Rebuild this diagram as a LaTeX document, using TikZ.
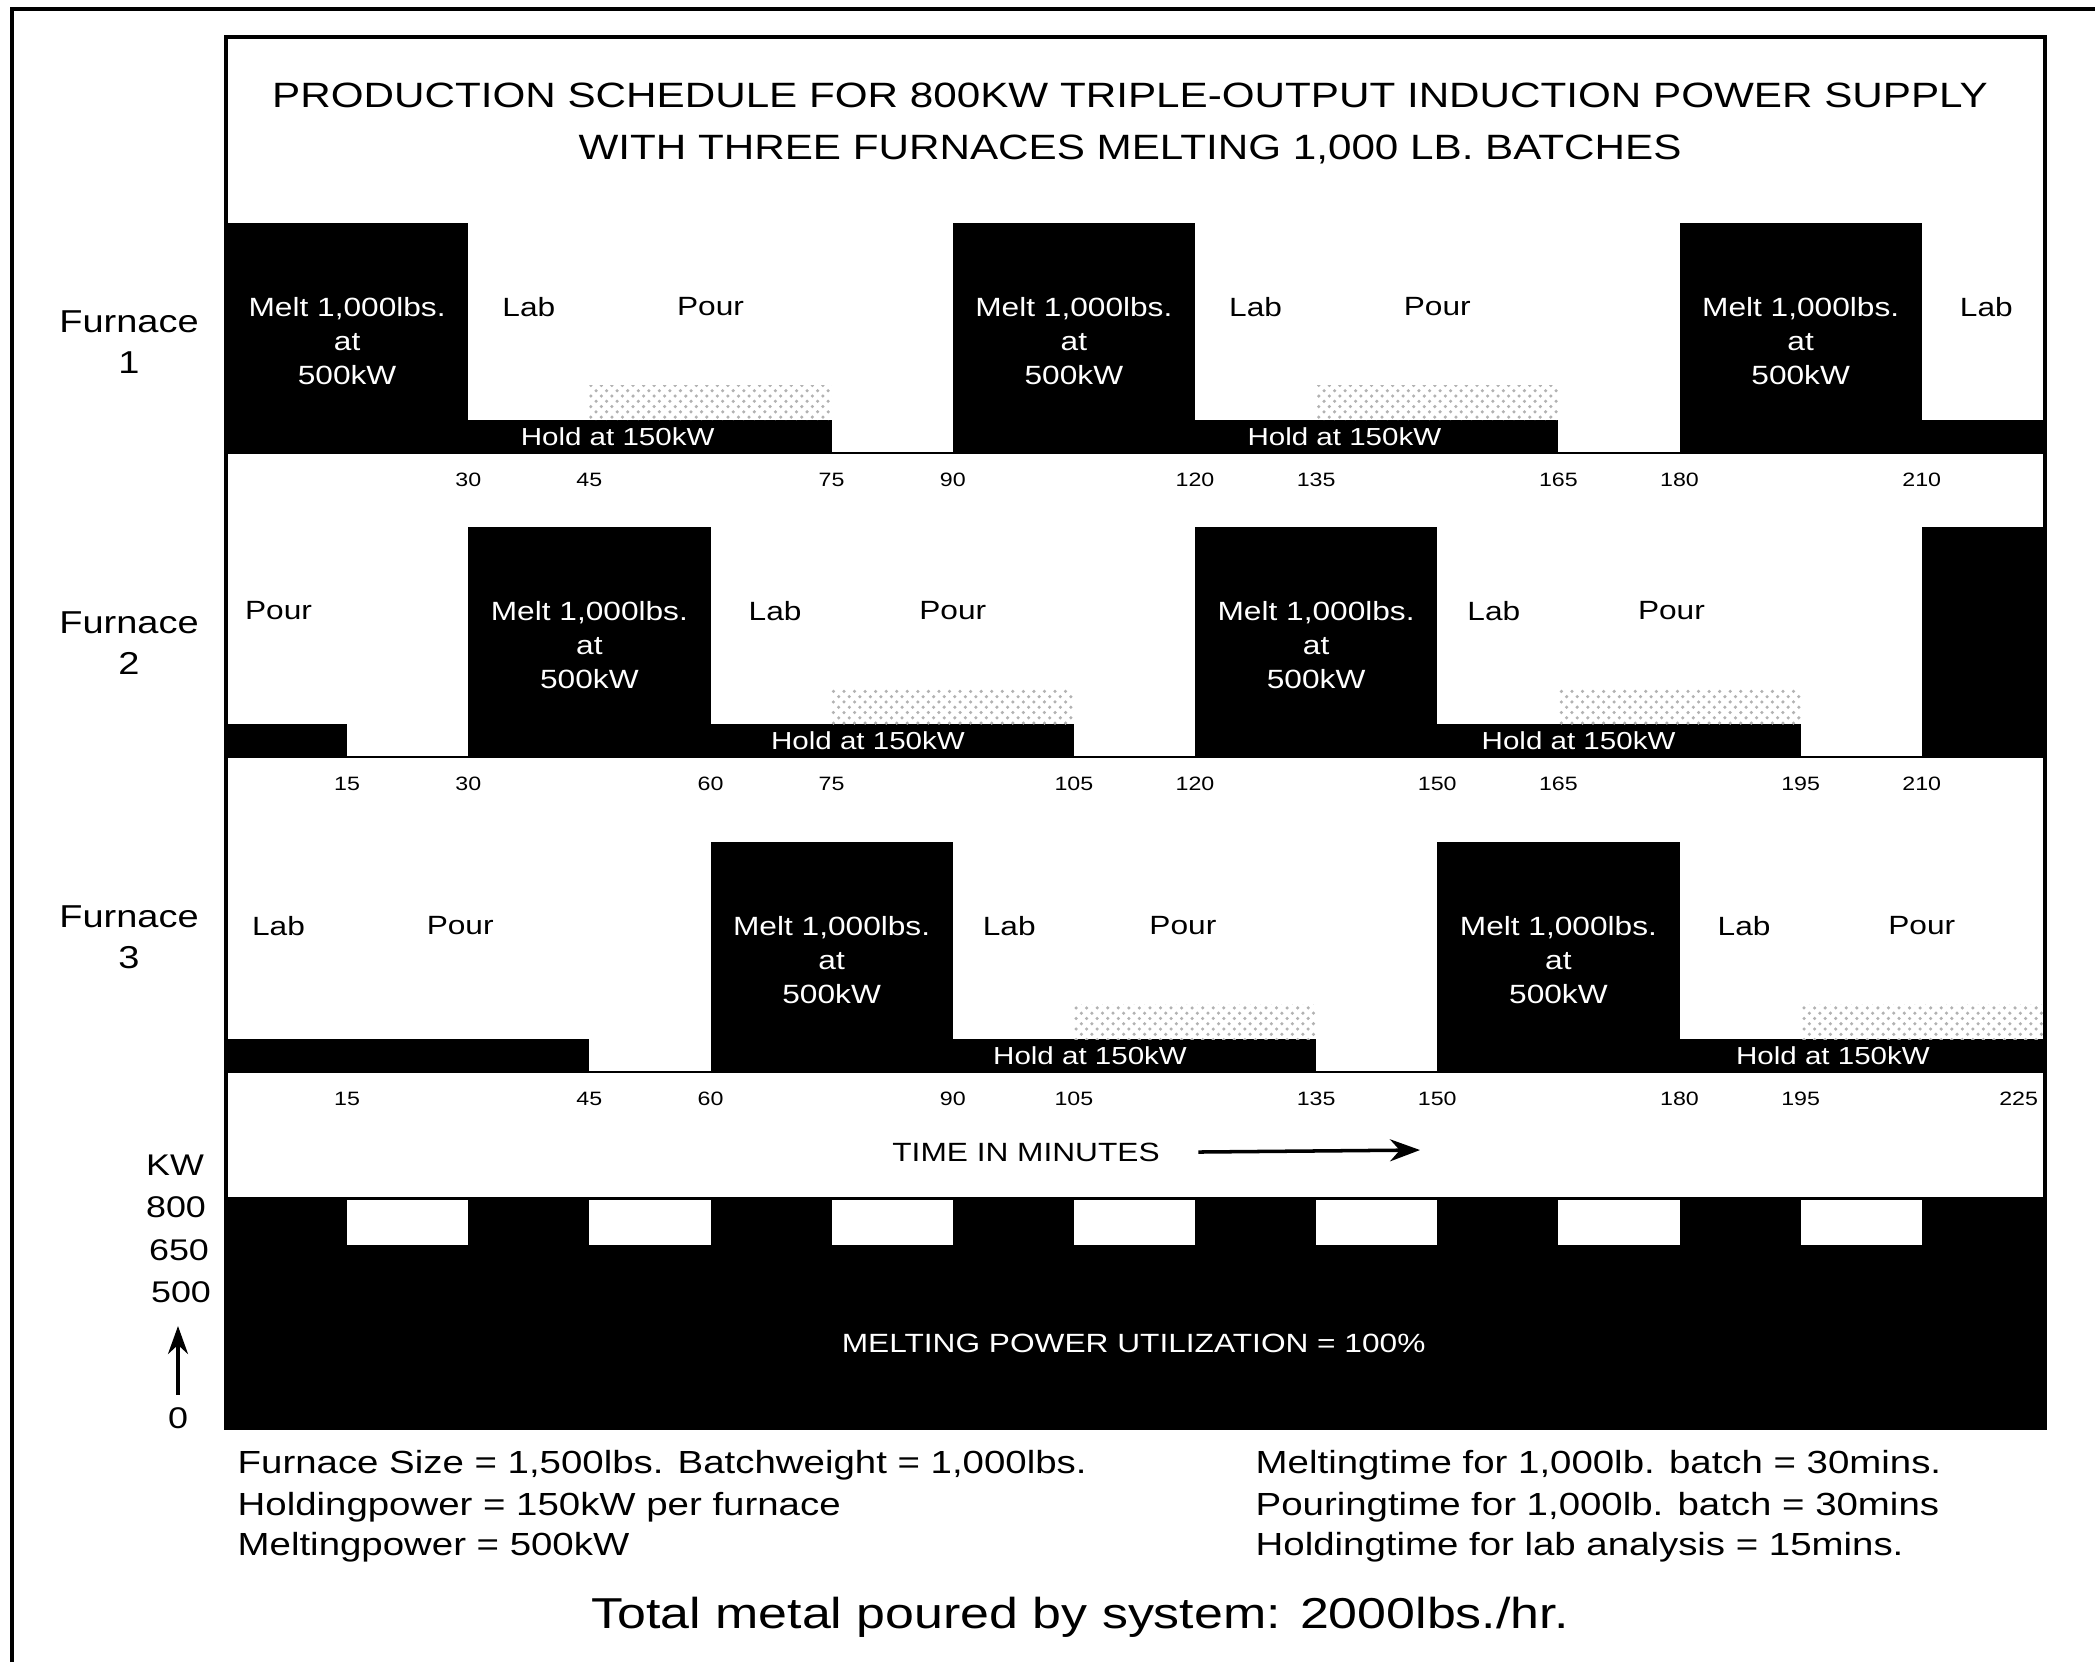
\documentclass[tikz,border=0pt]{standalone}
\usepackage{fontspec}
\setmainfont{Liberation Sans}[FakeStretch=1.2]
\usetikzlibrary{arrows.meta, positioning, patterns}

\begin{document}
\begin{tikzpicture}[
  x=0.01cm, y=-0.01cm,
  every node/.style={inner sep=0pt},
  row/.style={x=0.0807cm},
  block/.style={fill=black},
  meltlabel/.style={text=white, align=center, font=\fontsize{7.5}{9.7}\selectfont},
  phase/.style={font=\fontsize{7.5}{9}\selectfont},
  holdlabel/.style={text=white, font=\fontsize{7}{8}\selectfont},
  minute/.style={font=\fontsize{5.5}{6}\selectfont},
  furnace/.style={align=center, font=\fontsize{9}{11.7}\selectfont},
  kwlabel/.style={font=\fontsize{8.5}{9}\selectfont},
  note/.style={anchor=west, font=\fontsize{9.1}{10}\selectfont},
  stipple/.style={pattern=crosshatch dots, pattern color=black!30}
]
  \useasboundingbox (0,0) rectangle (2095,1662);

  % frames
  \draw[line width=1.1pt] (12,1662) -- (12,9) -- (2095,9);
  \draw[line width=0.9pt] (226,37) rectangle (2045,1428);

  \node[align=center, font=\fontsize{10}{14.8}\selectfont] (title) at (1130,123)
    {PRODUCTION SCHEDULE FOR 800KW TRIPLE-OUTPUT INDUCTION POWER SUPPLY\\
     WITH THREE FURNACES MELTING 1,000 LB. BATCHES};

  \foreach \n/\y in {1/342,2/643,3/937}
    \node[furnace] (furnace\n) at (129,\y) {Furnace\\\n};

  % furnace 1
  \begin{scope}[shift={(226,453)}, row]
    \draw[line width=0.8pt] (0,0) -- (225,0);
    \foreach \s [count=\i] in {0,90,180} {
      \fill[block] (\s,0) rectangle ++(30,-230);
      \node[meltlabel] (fa melt\i) at (\s+15,-112) {Melt 1,000lbs.\\at\\500kW};
    }
    \foreach \s/\e in {30/75,120/165,210/225}
      \fill[block] (\s,0) rectangle (\e,-33);
    \foreach \s in {45,135}
      \fill[stipple] (\s,-33) rectangle ++(30,-35);
    \foreach \t [count=\i] in {37.5,127.5,218}
      \node[phase] (fa lab\i) at (\t,-146) {Lab};
    \foreach \t [count=\i] in {60,150}
      \node[phase] (fa pour\i) at (\t,-146) {Pour};
    \foreach \t [count=\i] in {48.5,138.5}
      \node[holdlabel] (fa hold\i) at (\t,-16) {Hold at 150kW};
    \foreach \t in {30,45,75,90,120,135,165,180,210}
      \node[minute] (fa t\t) at (\t,27) {\t};
  \end{scope}

  % furnace 2
  \begin{scope}[shift={(226,757)}, row]
    \draw[line width=0.8pt] (0,0) -- (225,0);
    \foreach \s [count=\i] in {30,120} {
      \fill[block] (\s,0) rectangle ++(30,-230);
      \node[meltlabel] (fb melt\i) at (\s+15,-112) {Melt 1,000lbs.\\at\\500kW};
    }
    \fill[block] (210,0) rectangle (225,-230);
    \foreach \s/\e in {0/15,60/105,150/195}
      \fill[block] (\s,0) rectangle (\e,-33);
    \foreach \s in {75,165}
      \fill[stipple] (\s,-33) rectangle ++(30,-35);
    \foreach \t [count=\i] in {68,157}
      \node[phase] (fb lab\i) at (\t,-146) {Lab};
    \foreach \t [count=\i] in {6.5,90,179}
      \node[phase] (fb pour\i) at (\t,-146) {Pour};
    \foreach \t [count=\i] in {79.5,167.5}
      \node[holdlabel] (fb hold\i) at (\t,-16) {Hold at 150kW};
    \foreach \t in {15,30,60,75,105,120,150,165,195,210}
      \node[minute] (fb t\t) at (\t,27) {\t};
  \end{scope}

  % furnace 3
  \begin{scope}[shift={(226,1072)}, row]
    \draw[line width=0.8pt] (0,0) -- (225,0);
    \foreach \s [count=\i] in {60,150} {
      \fill[block] (\s,0) rectangle ++(30,-230);
      \node[meltlabel] (fc melt\i) at (\s+15,-112) {Melt 1,000lbs.\\at\\500kW};
    }
    \foreach \s/\e in {0/45,90/135,180/225}
      \fill[block] (\s,0) rectangle (\e,-33);
    \foreach \s in {105,195}
      \fill[stipple] (\s,-33) rectangle ++(30,-35);
    \foreach \t [count=\i] in {6.5,97,188}
      \node[phase] (fc lab\i) at (\t,-146) {Lab};
    \foreach \t [count=\i] in {29,118.5,210}
      \node[phase] (fc pour\i) at (\t,-146) {Pour};
    \foreach \t [count=\i] in {107,199}
      \node[holdlabel] (fc hold\i) at (\t,-16) {Hold at 150kW};
    \foreach \t/\p in {15/15,45/45,60/60,90/90,105/105,135/135,150/150,180/180,195/195,225/222}
      \node[minute] (fc t\t) at (\p,27) {\t};
  \end{scope}

  \node[font=\fontsize{7.5}{9}\selectfont] (time) at (1026,1152) {TIME IN MINUTES};
  \coordinate (time tip) at (1420,1150);
  \draw[line width=1pt, -{Stealth[length=0.3cm, width=0.22cm]}] ([xshift=0.38cm]time.east) -- (time tip);

  % total power
  \begin{scope}[shift={(226,1428)}, row]
    \fill[block] (0,0) rectangle (225,-231);
    \foreach \s in {15,45,...,195}
      \fill[white] (\s,-228) rectangle ++(15,45);
    \node[text=white, font=\fontsize{7.5}{9}\selectfont] (util) at (112.4,-85)
      {MELTING POWER UTILIZATION = 100\%};
  \end{scope}

  \node[kwlabel] (kw) at (175,1165) {KW};
  \node[kwlabel] (kw800) at (176,1207) {800};
  \node[kwlabel] (kw650) at (179,1250) {650};
  \node[kwlabel] (kw500) at (181,1292) {500};
  \node[kwlabel] (kw0) at (178,1418) {0};
  \coordinate (kw tip) at (178,1326);
  \draw[line width=0.9pt, -{Stealth[length=0.28cm, width=0.2cm]}] ([yshift=0.12cm]kw0.north) -- (kw tip);

  % notes
  \node[note] (size) at (237,1465) {Furnace Size = 1,500lbs. Batchweight = 1,000lbs.};
  \node[note] (holdpow) at (237,1507) {Holdingpower = 150kW per furnace};
  \node[note] (meltpow) at (237,1547) {Meltingpower = 500kW};
  \node[note] (melttime) at (1255,1465) {Meltingtime for 1,000lb. batch = 30mins.};
  \node[note] (pourtime) at (1255,1507) {Pouringtime for 1,000lb. batch = 30mins};
  \node[note] (labtime) at (1255,1547) {Holdingtime for lab analysis = 15mins.};
  \node[font=\fontsize{12.3}{14}\selectfont] (total) at (1080,1617) {Total metal poured by system: 2000lbs./hr.};
\end{tikzpicture}
\end{document}
